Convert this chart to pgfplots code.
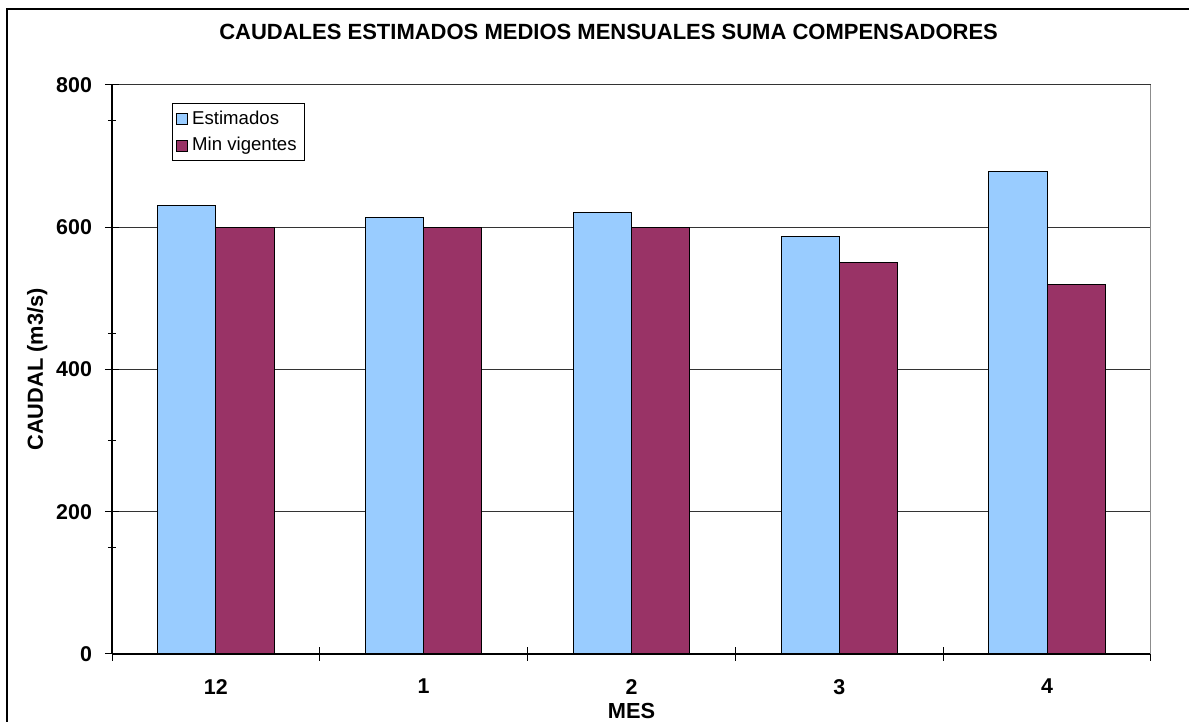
\documentclass[border=0pt]{standalone}
\usepackage{pgfplots}
\pgfplotsset{compat=1.18}
\usepackage{fontspec}
\setmainfont{Liberation Sans}
\definecolor{estim}{HTML}{99CCFF}
\definecolor{minv}{HTML}{993366}
\begin{document}
\begin{tikzpicture}
\useasboundingbox (0pt,0pt) rectangle (594.5pt,361pt);
\draw[line width=1pt] (3.6pt,-5pt) -- (3.6pt,356.6pt) -- (600pt,356.6pt);
\begin{axis}[
  at={(56pt,34pt)}, anchor=south west,
  width=519.5pt, height=284.5pt, scale only axis,
  xmin=-0.5, xmax=4.5, ymin=0, ymax=800,
  ybar=0pt, bar width=0.28,
  axis x line*=bottom, axis y line*=left,
  axis line style={black, line width=0.6pt},
  xtick={-0.5,0.5,1.5,2.5,3.5,4.5}, xticklabels={,,,,,},
  xtick align=center,
  extra x ticks={0,1,2,3,4}, extra x tick labels={12,1,2,3,4},
  extra x tick style={major tick length=0pt, xticklabel style={yshift=-9pt}},
  ytick={0,200,400,600,800}, minor ytick={150,300,450,750},
  ytick align=center,
  major tick length=7pt, minor tick length=4pt,
  tick style={black, line width=0.5pt},
  ymajorgrids, major grid style={black!80, line width=0.5pt},
  /pgf/number format/assume math mode=true,
  ticklabel style={font=\bfseries\fontsize{10.7}{12}\selectfont},
  yticklabel style={xshift=-3pt},
  title={CAUDALES ESTIMADOS MEDIOS MENSUALES SUMA COMPENSADORES},
  title style={font=\bfseries\fontsize{11}{13}\selectfont, at={(axis description cs:0.478,1.072)}, anchor=center},
  ylabel={CAUDAL (m3/s)},
  ylabel style={font=\bfseries\fontsize{10.9}{12}\selectfont, at={(axis description cs:-0.072,0.5)}, anchor=center},
  xlabel={MES},
  xlabel style={font=\bfseries\fontsize{10.9}{12}\selectfont, at={(axis description cs:0.5,-0.1)}, anchor=center},
  legend cell align=left,
  legend image code/.code={\draw[#1, draw=black, line width=0.4pt] (0pt,-2.75pt) rectangle (5.5pt,2.75pt);},
  legend style={at={(axis description cs:0.0577,0.968)}, anchor=north west, draw=black, line width=0.5pt,
    font=\fontsize{9.3}{11}\selectfont, row sep=1pt, inner xsep=2pt, inner ysep=1.5pt},
]
\addplot[fill=estim, draw=black, line width=0.5pt] coordinates {(0,631) (1,613) (2,621) (3,587) (4,678)};
\addlegendentry{Estimados}
\addplot[fill=minv, draw=black, line width=0.5pt] coordinates {(0,600) (1,600) (2,600) (3,551) (4,520)};
\addlegendentry{Min vigentes}
\draw[black!45, line width=0.6pt] (rel axis cs:1,0) -- (rel axis cs:1,1);
\end{axis}
\end{tikzpicture}
\end{document}
